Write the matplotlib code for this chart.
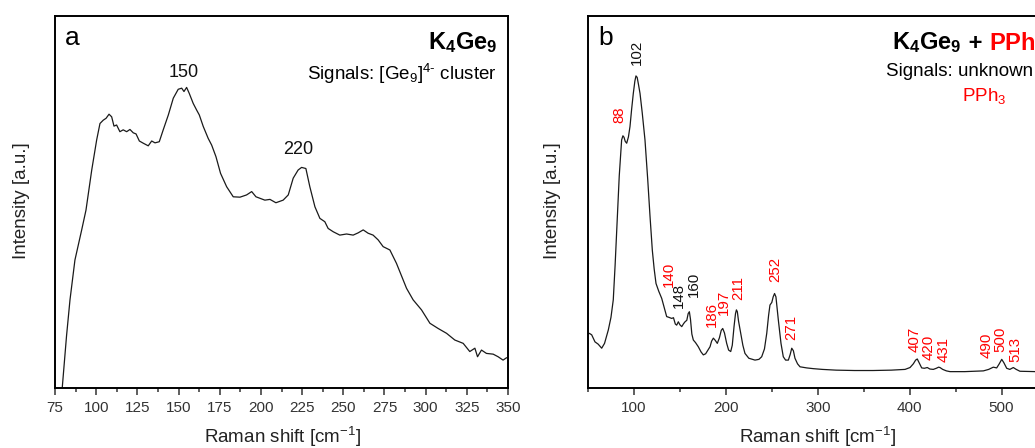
import matplotlib
matplotlib.use("Agg")
import matplotlib.pyplot as plt

# ─── DATA ──────────────────────────────────────────────────────────────────
# panel a: K4Ge9
shift_a = [79.2, 82, 84.1, 87.1, 91.2, 93.8, 97.3, 100.3, 102.3, 104.3, 106, 107.8,
           109.4, 110.8, 112.4, 114.4, 116.4, 118.5, 120.5, 122.5, 124.2, 126.2,
           128.6, 131.6, 133.7, 135.7, 138.3, 140.7, 143.8, 146.8, 149.8, 151.9,
           153.3, 154.9, 156.5, 158.9, 161, 162.6, 165, 168, 170.1, 172.7, 175.5,
           179.2, 183.2, 187.3, 191.3, 194.4, 197, 199.4, 202.4, 205.5, 209.1,
           213.5, 216.6, 219.6, 222.6, 224.7, 227.3, 229.7, 232.8, 235.8, 238.8,
           240.8, 243.9, 247.9, 252, 256, 259, 262.1, 265.1, 268.1, 271.2, 274.2,
           278.3, 282.3, 286.4, 288.4, 292.4, 297.5, 302.6, 307.6, 312.7, 317.7,
           322.8, 326.8, 329.9, 331.5, 333.9, 336.9, 341, 344, 347, 349, 350]
int_a = [-1, 14, 23.7, 34.4, 42.5, 47.8, 58.6, 66.7, 71.1, 72.0, 72.5, 73.6,
         72.9, 70.4, 70.7, 68.9, 69.4, 68.9, 69.5, 68.6, 68.3, 66.4,
         65.8, 65.1, 66.4, 65.9, 66.2, 69.4, 73.4, 77.9, 80.3, 80.6,
         79.7, 80.8, 79.2, 76.5, 74.7, 73.4, 70.3, 67.1, 65.3, 62.2, 57.7,
         54.1, 51.4, 51.3, 51.9, 52.8, 51.4, 51.0, 50.5, 50.7, 49.8,
         50.5, 51.9, 56.4, 58.6, 59.3, 59.0, 54.1, 48.7, 45.6, 44.7,
         42.9, 42.0, 41.1, 41.4, 41.1, 41.7, 42.5, 41.6, 41.1, 39.8, 38.0,
         37.1, 33.5, 29.0, 26.8, 23.7, 21.0, 17.4, 16.0, 14.7, 12.9,
         12.0, 9.8, 10.7, 8.4, 10.2, 9.3, 9.1, 8.4, 7.5, 8.1, 8.2]

peaks_a = ["150", "220"]
peaks_a_x = [152.9, 222.6]
peaks_a_y = [84.7, 64.0]

# panel b: K4Ge9 + PPh3
shift_b = [50, 51.4, 54, 57.6, 61, 64.9, 68, 72.1, 75, 77.5, 79.5, 81.9, 84, 86.6, 88,
           89.2, 90.5, 92.1, 94, 95.7, 97.5, 99.3, 101, 102.2, 103.5, 105, 106.6, 109,
           112, 115, 117.5, 120, 122, 124, 127, 130.2, 133, 135.6, 138, 141.1, 143,
           145, 146.5, 148.3, 150, 152, 154, 155.6, 157.5, 159, 160.3, 161.5, 163,
           164.6, 167, 170, 173, 175.5, 178, 180.5, 182.8, 184.5, 186.4, 188.5, 190.7,
           193, 195, 196.6, 198.5, 200.9, 203, 205.3, 207, 208.9, 210.5, 211.5, 212.5,
           213.8, 216.2, 218.5, 220.8, 225, 231.7, 236, 239, 242, 244.5, 246.5, 248,
           250, 251.5, 253, 254.5, 257.1, 260, 262.5, 265, 268, 270, 271.7, 273.5,
           275.2, 278, 280.7, 288, 295.2, 305, 320, 340, 360, 380, 395, 400.4, 404,
           406.5, 408.3, 410.5, 413.1, 416, 419.2, 422, 425.7, 429, 431.5, 433, 436,
           440, 443.9, 460, 480.2, 486, 491, 494.7, 497.5, 500.2, 502.5, 505.6, 509,
           512.8, 516, 520, 536.4, 550]
int_b = [14.5, 14.7, 14.3, 12.4, 11.8, 10.7, 12.0, 15.6, 19.0, 23.7, 33, 46.1, 57, 66.7, 67.8,
         67.4, 66.3, 65.8, 67.5, 70.3, 75, 79.2, 82.5, 83.9, 83.5, 81.5, 79.2, 74,
         66.7, 56, 46.1, 37, 32, 28.1, 26, 24.1, 21.5, 19.2, 19.0, 18.7, 18.9,
         17.2, 16.9, 17.8, 17.0, 16.5, 17.3, 17.8, 18.2, 20.0, 20.5, 18.5, 14.5,
         12.9, 12.2, 11.1, 9.7, 8.9, 9.2, 10.2, 11.1, 12.6, 13.4, 12.8, 12.0,
         13.5, 15.5, 16.0, 14.8, 12.0, 10.2, 9.8, 11.5, 16.5, 20.0, 21.0, 20.5,
         18.0, 14.7, 11.5, 9.3, 8.0, 7.5, 7.7, 8.4, 10.5, 14.7, 19.5, 22.3,
         23.0, 24.5, 25.4, 24.5, 18.3, 12.0, 8.4, 7.5, 7.5, 9.0, 10.7, 10.0,
         8.0, 6.5, 5.7, 5.4, 5.2, 5.0, 4.8, 4.7, 4.7, 4.8, 5.0, 5.5, 6.5,
         7.5, 7.8, 6.7, 5.4, 5.3, 5.5, 5.1, 5.0, 5.3, 5.6, 5.5, 5.0,
         4.6, 4.4, 4.4, 4.6, 5.0, 5.6, 5.4, 6.5, 7.7, 6.8, 5.3, 5.0,
         5.5, 5.0, 4.5, 4.4, 4.4]

peaks_b = ["88", "102", "140", "148", "160", "186", "197", "211", "252", "271",
           "407", "420", "431", "490", "500", "513"]
peaks_b_x = [84, 103, 138.5, 149.3, 165.3, 184.6, 198, 213.5, 253.5, 271.7,
             405.8, 420.3, 436.6, 483.8, 499, 514.6]
peaks_b_y = [71.2, 86.8, 27.2, 21.5, 24.5, 16.4, 19.6, 23.7, 28.5, 12.9,
             9.7, 7.5, 7.0, 8.1, 9.7, 7.0]
peaks_b_pph3 = [True, False, True, False, False, True, True, True, True, True,
                True, True, True, True, True, True]
# ────────────────────────────────────────────────────────────────────────────

RED = "#ff0000"
LINE = "#1a1a1a"
W, H = 1035, 448

plt.rcParams["font.family"] = ["Liberation Sans", "DejaVu Sans"]
plt.rcParams["mathtext.fontset"] = "custom"
plt.rcParams["mathtext.rm"] = "Liberation Sans"
plt.rcParams["mathtext.it"] = "Liberation Sans:italic"
plt.rcParams["mathtext.bf"] = "Liberation Sans:bold"

fig = plt.figure(figsize=(W / 100, H / 100), dpi=100)
renderer = fig.canvas.get_renderer()


def px_axes(left, top, width, height):
    return fig.add_axes([left / W, 1 - (top + height) / H, width / W, height / H])


def style(ax, xlim, major, minor):
    ax.set_xlim(*xlim)
    ax.set_ylim(0, 100)
    ax.set_yticks([])
    ax.set_xticks(major)
    ax.set_xticks(minor, minor=True)
    ax.tick_params(axis="x", which="major", length=5, width=1.1, labelsize=11,
                   pad=4, colors="#333333", labelcolor="#333333")
    ax.tick_params(axis="x", which="minor", length=3, width=1.1, colors="#333333")
    for s in ax.spines.values():
        s.set_linewidth(1.4)
    ax.set_xlabel(r"Raman shift [cm$^{-1}$]", fontsize=13.5, color="#222222")
    ax.set_ylabel("Intensity [a.u.]", fontsize=13.5, color="#222222")


# Panel a
ax1 = px_axes(55, 16, 453, 372)
ax1.plot(shift_a, int_a, color=LINE, lw=0.9)
style(ax1, (75, 350), range(75, 351, 25), [x + 12.5 for x in range(75, 350, 25)])
ax1.xaxis.set_label_coords(0.503, -0.132)
ax1.yaxis.set_label_coords(-0.073, 0.505)
ax1.xaxis.label.set_va("center")
ax1.yaxis.label.set_va("center")
for t, x, y in zip(peaks_a, peaks_a_x, peaks_a_y):
    ax1.text(x, y, t, fontsize=13, ha="center", va="center", color="#111111")

fig.text(65 / W, 1 - 38 / H, "a", fontsize=19, va="center", ha="left")
fig.text(498 / W, 1 - 43 / H, r"$\mathbf{K_4Ge_9}$", fontsize=17, ha="right", va="center")
fig.text(497 / W, 1 - 74 / H, r"Signals: [Ge$_9$]$^{4\text{-}}$ cluster", fontsize=13.5,
         ha="right", va="center")

# Panel b (wider than the canvas, cut off at the right edge like the source)
ax2 = px_axes(588, 16, 459.5, 372)
ax2.plot(shift_b, int_b, color=LINE, lw=0.9)
style(ax2, (50, 550), range(100, 551, 100), range(50, 551, 100))
ax2.xaxis.set_label_coords(0.5, -0.132)
ax2.yaxis.set_label_coords(-0.078, 0.505)
ax2.xaxis.label.set_va("center")
ax2.yaxis.label.set_va("center")
for t, x, y, red in zip(peaks_b, peaks_b_x, peaks_b_y, peaks_b_pph3):
    ax2.text(x, y, t, fontsize=10.8, rotation=90, ha="center", va="bottom",
             color=RED if red else "#111111")

fig.text(598 / W, 1 - 38 / H, "b", fontsize=19, va="center", ha="left")
head = fig.text(892 / W, 1 - 43 / H, r"$\mathbf{K_4Ge_9}$", fontsize=17,
                ha="left", va="center")
bb = head.get_window_extent(renderer)
plus = fig.text(bb.x1 / W, 1 - 43 / H, " + ", fontsize=17, fontweight="bold",
                ha="left", va="center")
bb = plus.get_window_extent(renderer)
fig.text(bb.x1 / W, 1 - 43 / H, r"$\mathbf{PPh_3}$", fontsize=17, ha="left",
         va="center", color=RED)
fig.text(886.5 / W, 1 - 71 / H, "Signals: unknown", fontsize=13.5, ha="left", va="center")
fig.text(961.5 / W, 1 - 96 / H, r"PPh$_3$", fontsize=13.5, ha="left", va="center", color=RED)

fig.savefig("out.png", dpi=100)
